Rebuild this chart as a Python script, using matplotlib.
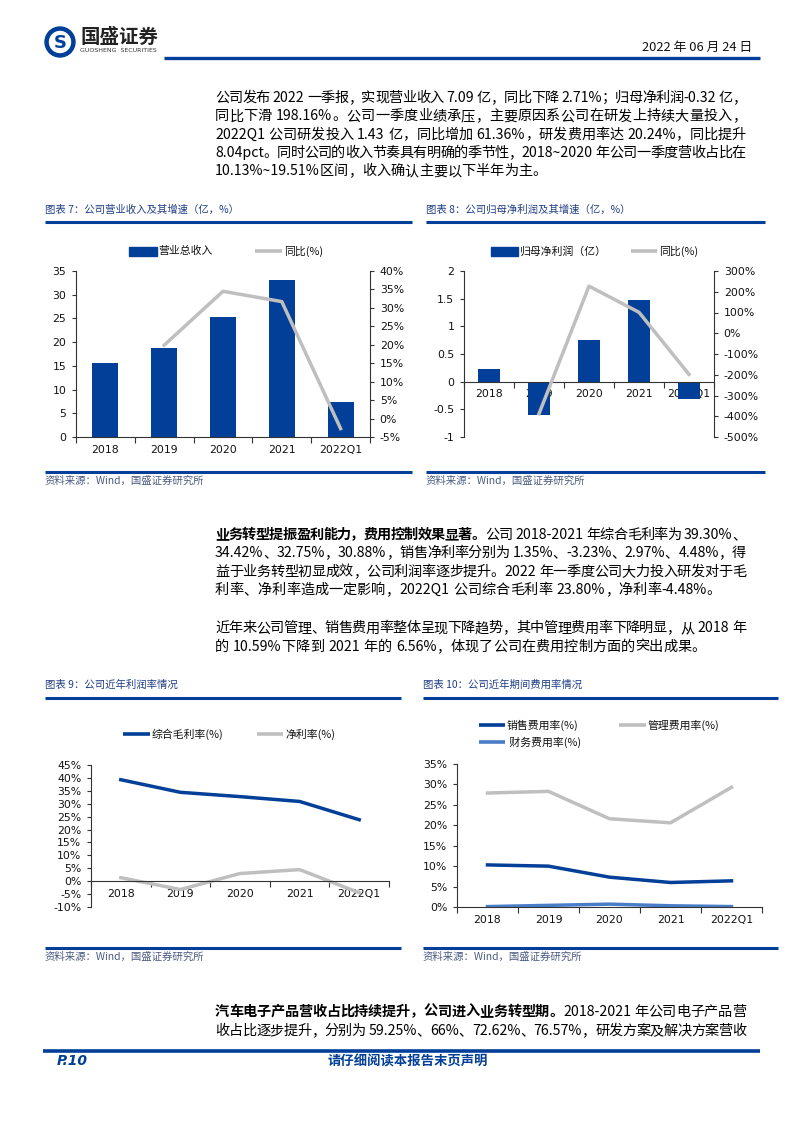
import re
import numpy as np
import matplotlib
matplotlib.use("Agg")
import matplotlib.pyplot as plt
from matplotlib.patches import Rectangle, Circle
from matplotlib.lines import Line2D

plt.rcParams['font.family'] = ['Noto Sans CJK SC', 'DejaVu Sans']

# ---------------- data ----------------
years = ['2018', '2019', '2020', '2021', '2022Q1']
revenue = [15.7, 18.8, 25.2, 33.0, 7.3]              # 营业总收入 (亿)
revenue_yoy = [np.nan, 19.9, 34.5, 31.7, -2.71]      # 同比(%)
profit = [0.23, -0.61, 0.76, 1.48, -0.32]            # 归母净利润 (亿)
profit_yoy = [np.nan, -388, 227, 101, -198.16]       # 同比(%)
gross_margin = [39.30, 34.42, 32.75, 30.88, 23.80]   # 综合毛利率(%)
net_margin = [1.35, -3.23, 2.97, 4.48, -4.48]        # 净利率(%)
sales_rate = [10.3, 10.0, 7.3, 6.0, 6.4]             # 销售费用率(%)
admin_rate = [27.9, 28.3, 21.6, 20.6, 29.3]          # 管理费用率(%)
fin_rate = [0.1, 0.4, 0.7, 0.3, 0.1]                 # 财务费用率(%)

W, H = 794, 1123
NAVY = '#013f98'
GRAY = '#bfbfbf'
LBLUE = '#4a7dc8'
TITLE_C = '#203e86'
SRC_C = '#4a5a80'
SPINE = '#333333'
TSIZE = 7.8
TICKFONT = dict(family='DejaVu Sans', size=TSIZE)

fig = plt.figure(figsize=(W / 100, H / 100), dpi=100)
ov = fig.add_axes([0, 0, 1, 1], zorder=-5)
ov.set_xlim(0, W)
ov.set_ylim(H, 0)
ov.axis('off')


def rect(l, t, r, b):
    return [l / W, 1 - b / H, (r - l) / W, (b - t) / H]


def hline(x0, x1, y, lw=2.2, color=NAVY):
    ov.add_line(Line2D([x0, x1], [y, y], lw=lw, color=color, solid_capstyle='butt'))


# ---------------- header ----------------
ov.add_patch(Circle((60, 42), 15, color=NAVY))
ov.add_patch(Circle((60, 42), 10.5, color='white'))
ov.text(60, 42.5, 'S', ha='center', va='center', fontsize=13, fontweight='bold',
        color=NAVY, family='DejaVu Sans')
ov.text(80, 37, '国盛证券', ha='left', va='center', fontsize=14, fontweight='bold', color='#222222')
ov.text(80, 50, 'GUOSHENG  SECURITIES', ha='left', va='center', fontsize=4.5, color='#333333',
        family='DejaVu Sans')
ov.text(752, 47, '2022 年 06 月 24 日', ha='right', va='center', fontsize=9.3, color='#111111')
hline(164, 760, 57.5, lw=2.4)

# ---------------- body text ----------------
SIZE = 10.2
renderer = fig.canvas.get_renderer()
tok_re = re.compile(r'[A-Za-z0-9.%~\-]+| +|.')


def draw_line(segments, y, x0=215, x1=746, justify=True, size=SIZE):
    toks = []
    for text, bold in segments:
        for m in tok_re.finditer(text):
            toks.append((m.group(0), bold))
    em = size * 100 / 72
    widths = []
    for t, b in toks:
        if t.strip() == '':
            widths.append(0.28 * em)
        elif re.match(r'[A-Za-z0-9.%~\-]+$', t):
            tt = ov.text(0, 0, t, fontsize=size, fontweight='bold' if b else 'normal')
            widths.append(tt.get_window_extent(renderer).width)
            tt.remove()
        else:
            widths.append(em)
    total = sum(widths)
    gap = (x1 - x0 - total) / (len(toks) - 1) if justify and len(toks) > 1 else 0.0
    x = x0
    for (t, b), w in zip(toks, widths):
        if t.strip() != '':
            ov.text(x, y, t, fontsize=size, fontweight='bold' if b else 'normal',
                    color='black', ha='left', va='center')
        x += w + gap


p1 = ['公司发布 2022 一季报，实现营业收入 7.09 亿，同比下降 2.71%；归母净利润-0.32 亿，',
      '同比下滑  198.16%。公司一季度业绩承压，主要原因系公司在研发上持续大量投入，',
      '2022Q1 公司研发投入 1.43 亿，同比增加 61.36%，研发费用率达 20.24%，同比提升',
      '8.04pct。同时公司的收入节奏具有明确的季节性，2018~2020 年公司一季度营收占比在',
      '10.13%~19.51%区间，收入确认主要以下半年为主。']
for i, (s, y) in enumerate(zip(p1, [98, 116.3, 134.6, 153, 171.2])):
    draw_line([(s, False)], y, justify=(i < len(p1) - 1))

p2 = [[('业务转型提振盈利能力，费用控制效果显著。', True), ('公司 2018-2021 年综合毛利率为 39.30%、', False)],
      [('34.42%、32.75%，30.88%，销售净利率分别为 1.35%、-3.23%、2.97%、4.48%，得', False)],
      [('益于业务转型初显成效，公司利润率逐步提升。2022 年一季度公司大力投入研发对于毛', False)],
      [('利率、净利率造成一定影响，2022Q1 公司综合毛利率 23.80%，净利率-4.48%。', False)]]
for i, (s, y) in enumerate(zip(p2, [535, 553.3, 571.7, 590])):
    draw_line(s, y, justify=(i < len(p2) - 1))

p3 = ['近年来公司管理、销售费用率整体呈现下降趋势，其中管理费用率下降明显，从 2018 年',
      '的 10.59%下降到 2021 年的 6.56%，体现了公司在费用控制方面的突出成果。']
for i, (s, y) in enumerate(zip(p3, [628.3, 646.7])):
    draw_line([(s, False)], y, justify=(i < len(p3) - 1))

p4 = [[('汽车电子产品营收占比持续提升，公司进入业务转型期。', True), ('2018-2021 年公司电子产品营', False)],
      [('收占比逐步提升，分别为 59.25%、66%、72.62%、76.57%，研发方案及解决方案营收', False)]]
for s, y in zip(p4, [1012, 1031]):
    draw_line(s, y, justify=True)

# ---------------- footer ----------------
hline(43, 760, 1051, lw=2.6)
ov.text(57, 1061, 'P.10', fontsize=10, fontweight='bold', style='italic', color=NAVY,
        family='DejaVu Sans', ha='left', va='center')
ov.text(408, 1061, '请仔细阅读本报告末页声明', fontsize=9.6, fontweight='bold', color=NAVY,
        ha='center', va='center')


# ---------------- chart frame helpers ----------------
def frame(x0, x1, title, ytitle, yrule, ysrc_rule):
    ov.text(x0, ytitle, title, fontsize=7.5, color=TITLE_C, ha='left', va='center')
    hline(x0, x1, yrule, lw=2.2)
    hline(x0, x1, ysrc_rule, lw=2.2)
    ov.text(x0, ysrc_rule + 8.5, '资料来源：Wind，国盛证券研究所', fontsize=7.5, color=SRC_C,
            ha='left', va='center')


def leg_bar(x0, x1, y, label):
    ov.add_patch(Rectangle((x0, y - 4.5), x1 - x0, 9, color=NAVY))
    ov.text(x1 + 1.5, y, label, fontsize=7.8, ha='left', va='center', color='#111111')


def leg_line(x0, x1, y, label, color):
    ov.add_line(Line2D([x0, x1], [y, y], lw=2.6, color=color, solid_capstyle='butt'))
    ov.text(x1 + 2, y, label, fontsize=7.8, ha='left', va='center', color='#111111')


def style_axes(ax, left=True, right=False):
    for s in ['top', 'right', 'left', 'bottom']:
        ax.spines[s].set_visible(False)
    if left:
        ax.spines['left'].set_visible(True)
        ax.spines['left'].set_color(SPINE)
        ax.spines['left'].set_linewidth(0.8)
    if right:
        ax.spines['right'].set_visible(True)
        ax.spines['right'].set_color(SPINE)
        ax.spines['right'].set_linewidth(0.8)
    ax.tick_params(axis='y', length=3, width=0.8, color=SPINE, pad=4, labelsize=TSIZE,
                   labelcolor='#111111')
    ax.patch.set_alpha(0)


def style_x(ax, yzero_pos=None):
    ax.spines['bottom'].set_visible(True)
    ax.spines['bottom'].set_color(SPINE)
    ax.spines['bottom'].set_linewidth(0.8)
    if yzero_pos is not None:
        ax.spines['bottom'].set_position(('data', yzero_pos))
    ax.set_xlim(-0.5, 4.5)
    ax.set_xticks(range(len(years)))
    ax.set_xticklabels(years, fontdict=TICKFONT, color='#111111')
    ax.set_xticks(np.arange(-0.5, 5, 1), minor=True)
    ax.tick_params(axis='x', which='major', length=0, pad=5.5)
    ax.tick_params(axis='x', which='minor', length=4, width=0.8, color=SPINE, direction='out')


def pct_labels(ticks):
    return [f'{int(t)}%' for t in ticks]


x = np.arange(len(years))

# ---------------- chart 7 ----------------
frame(45, 412, '图表 7：公司营业收入及其增速（亿，%）', 210, 222, 472)
leg_bar(129, 157, 251, '营业总收入')
leg_line(255, 282, 251, '同比(%)', GRAY)
ax7 = fig.add_axes(rect(76, 271, 370, 437))
ax7.bar(x, revenue, width=0.44, color=NAVY, zorder=2)
ax7.set_ylim(0, 35)
ax7.set_yticks(np.arange(0, 36, 5))
ax7.set_yticklabels([str(int(v)) for v in np.arange(0, 36, 5)])
style_axes(ax7, left=True)
style_x(ax7)
ax7b = ax7.twinx()
ax7b.plot(x, revenue_yoy, color=GRAY, lw=2.5)
ax7b.set_ylim(-5, 40)
t7 = np.arange(-5, 41, 5)
ax7b.set_yticks(t7)
ax7b.set_yticklabels(pct_labels(t7))
style_axes(ax7b, left=False, right=True)

# ---------------- chart 8 ----------------
frame(426, 765, '图表 8：公司归母净利润及其增速（亿，%）', 210, 222, 472)
leg_bar(491, 518, 251, '归母净利润（亿）')
leg_line(631, 657, 251, '同比(%)', GRAY)
ax8 = fig.add_axes(rect(464, 271, 714, 437))
ax8.bar(x, profit, width=0.45, color=NAVY, zorder=2)
ax8.set_ylim(-1, 2)
t8 = [-1, -0.5, 0, 0.5, 1, 1.5, 2]
ax8.set_yticks(t8)
ax8.set_yticklabels(['-1', '-0.5', '0', '0.5', '1', '1.5', '2'])
style_axes(ax8, left=True)
style_x(ax8, 0)
ax8b = ax8.twinx()
ax8b.plot(x, profit_yoy, color=GRAY, lw=2.5)
ax8b.set_ylim(-500, 300)
t8b = np.arange(-500, 301, 100)
ax8b.set_yticks(t8b)
ax8b.set_yticklabels(pct_labels(t8b))
style_axes(ax8b, left=False, right=True)

# ---------------- chart 9 ----------------
frame(45, 401, '图表 9：公司近年利润率情况', 685, 697.5, 948)
leg_line(123, 150, 734, '综合毛利率(%)', NAVY)
leg_line(257, 283, 734, '净利率(%)', GRAY)
ax9 = fig.add_axes(rect(91, 765, 389, 907))
ax9.plot(x, gross_margin, color=NAVY, lw=2.5)
ax9.plot(x, net_margin, color=GRAY, lw=2.5)
ax9.set_ylim(-10, 45)
t9 = np.arange(-10, 46, 5)
ax9.set_yticks(t9)
ax9.set_yticklabels(pct_labels(t9))
style_axes(ax9, left=True)
style_x(ax9, 0)

# ---------------- chart 10 ----------------
frame(423, 778, '图表 10：公司近年期间费用率情况', 685, 697.5, 948)
leg_line(479, 505, 725, '销售费用率(%)', NAVY)
leg_line(619, 646, 725, '管理费用率(%)', GRAY)
leg_line(479, 505, 742, ' 财务费用率(%)', LBLUE)
ax10 = fig.add_axes(rect(457, 764, 762, 907))
ax10.plot(x, admin_rate, color=GRAY, lw=2.5)
ax10.plot(x, sales_rate, color=NAVY, lw=2.5)
ax10.plot(x, fin_rate, color=LBLUE, lw=2.5)
ax10.set_ylim(0, 35)
t10 = np.arange(0, 36, 5)
ax10.set_yticks(t10)
ax10.set_yticklabels(pct_labels(t10))
style_axes(ax10, left=True)
style_x(ax10)

for a in [ax7, ax7b, ax8, ax8b, ax9, ax10]:
    for lab in a.get_yticklabels():
        lab.set_family('DejaVu Sans')
        lab.set_size(TSIZE)

fig.savefig('out.png', dpi=100)
